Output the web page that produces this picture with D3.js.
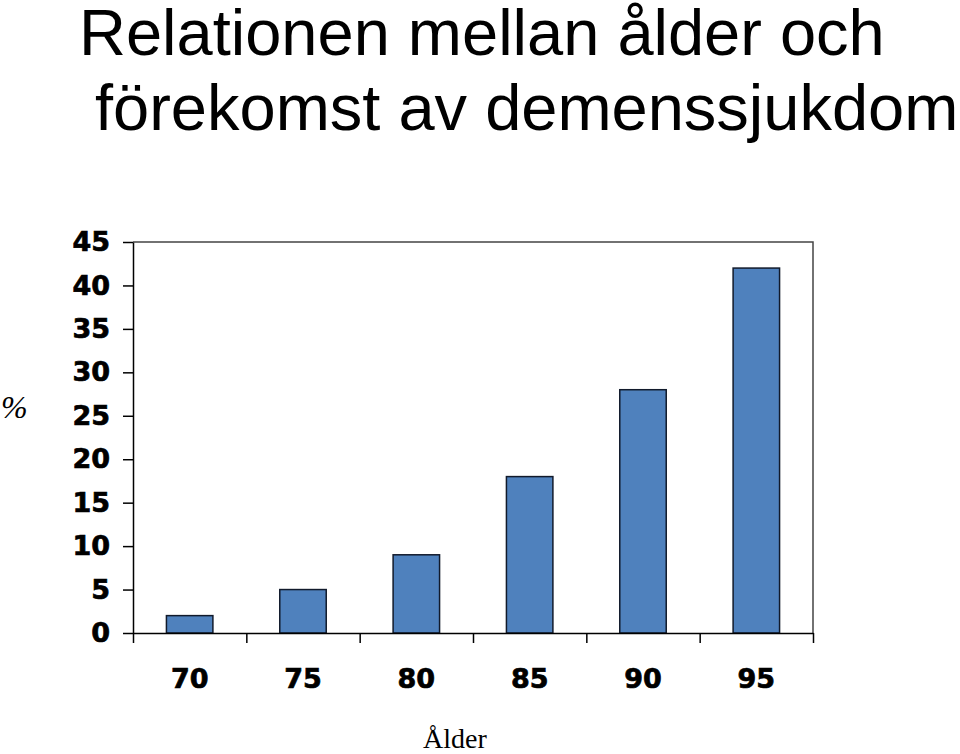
<!DOCTYPE html>
<html>
<head>
<meta charset="utf-8">
<script src="https://cdn.jsdelivr.net/npm/d3@7"></script>
<style>
  body { margin: 0; background: #fff; }
  svg { display: block; }
</style>
</head>
<body>
<div id="viz"></div>
<script>
// data
const ages = ["70", "75", "80", "85", "90", "95"];
const percent = [2, 5, 9, 18, 28, 42];
const yTicks = [0, 5, 10, 15, 20, 25, 30, 35, 40, 45];
const titleLines = ["Relationen mellan ålder och", "förekomst av demenssjukdom"];

const width = 960, height = 754;
const plot = { left: 133, right: 813, top: 242, bottom: 633 };

const svg = d3.select("#viz")
  .append("svg")
  .attr("width", width)
  .attr("height", height);

// title
svg.append("text")
  .attr("x", 79).attr("y", 55)
  .style("font-family", "'Liberation Sans', Arial, sans-serif")
  .style("font-size", "65px")
  .text(titleLines[0]);
svg.append("text")
  .attr("x", 95).attr("y", 130)
  .style("font-family", "'Liberation Sans', Arial, sans-serif")
  .style("font-size", "65px")
  .text(titleLines[1]);

const x = d3.scaleBand()
  .domain(ages)
  .range([plot.left, plot.right])
  .paddingInner(0.59)
  .paddingOuter(0.295);

const y = d3.scaleLinear()
  .domain([0, 45])
  .range([plot.bottom, plot.top]);

// top and right frame
svg.append("path")
  .attr("d", `M${plot.left},${plot.top}H${plot.right}V${plot.bottom}`)
  .attr("fill", "none")
  .attr("stroke", "#444")
  .attr("stroke-width", 1.5);

// bars
svg.selectAll("rect.bar")
  .data(percent)
  .enter()
  .append("rect")
  .attr("class", "bar")
  .attr("x", (d, i) => x(ages[i]))
  .attr("y", d => y(d))
  .attr("width", x.bandwidth())
  .attr("height", d => y(0) - y(d))
  .attr("fill", "#4f81bd")
  .attr("stroke", "#111a2b")
  .attr("stroke-width", 1.5);

// y axis
const yAxis = svg.append("g")
  .attr("transform", `translate(${plot.left},0)`)
  .call(d3.axisLeft(y).tickValues(yTicks).tickSize(10).tickPadding(13).tickSizeOuter(0));
yAxis.selectAll("text")
  .style("font-family", "'DejaVu Sans', Verdana, sans-serif")
  .style("font-weight", "bold")
  .style("font-size", "27px")
  .attr("fill", "#000")
  .attr("stroke", "#000")
  .attr("stroke-width", 0.7);

// x boundary ticks
const xEdge = d3.scaleLinear().domain([0, ages.length]).range([plot.left, plot.right]);
svg.append("g")
  .attr("transform", `translate(0,${plot.bottom})`)
  .call(d3.axisBottom(xEdge).ticks(ages.length).tickSize(10).tickFormat("").tickSizeOuter(0));

// x labels
const xAxis = svg.append("g")
  .attr("transform", `translate(0,${plot.bottom})`)
  .call(d3.axisBottom(x).tickSize(0).tickPadding(36));
xAxis.select(".domain").remove();
xAxis.selectAll("text")
  .style("font-family", "'DejaVu Sans', Verdana, sans-serif")
  .style("font-weight", "bold")
  .style("font-size", "27px")
  .attr("fill", "#000")
  .attr("stroke", "#000")
  .attr("stroke-width", 0.7);

svg.selectAll(".domain, .tick line")
  .attr("stroke", "#000")
  .attr("stroke-width", 1.5);

// axis titles
svg.append("text")
  .attr("x", 455).attr("y", 748)
  .attr("text-anchor", "middle")
  .style("font-family", "'Liberation Serif', 'Times New Roman', serif")
  .style("font-size", "28px")
  .text("Ålder");

svg.append("text")
  .attr("x", 1).attr("y", 418)
  .style("font-family", "'Liberation Serif', 'Times New Roman', serif")
  .style("font-style", "italic")
  .style("font-size", "32px")
  .text("%");
</script>
</body>
</html>
